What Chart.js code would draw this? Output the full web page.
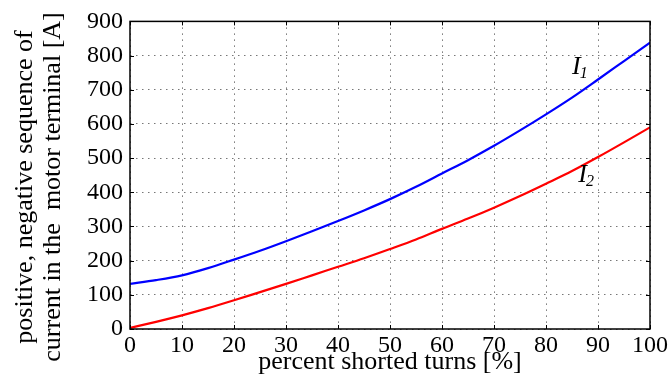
<!DOCTYPE html>
<html><head><meta charset="utf-8">
<script src="https://cdn.jsdelivr.net/npm/chart.js@4/dist/chart.umd.min.js"></script>
<style>html,body{margin:0;padding:0;background:#fff;}#wrap{width:671px;height:378px;}</style>
</head><body><div id="wrap"><canvas id="c" width="671" height="378"></canvas></div>
<script>
const shortedTurns = [0,5,10,15,20,25,30,35,40,45,50,55,60,65,70,75,80,85,90,95,100];
const currentI1 = [132,143,157,178,203,229,257,286,316,347,380,416,455,494,536,581,628,677,730,784,838];
const currentI2 = [3,21,40,61,84,108,132,157,182,207,234,262,293,323,355,389,425,462,503,546,590];
const xTicks = [0,10,20,30,40,50,60,70,80,90,100];
const yTicks = [0,100,200,300,400,500,600,700,800,900];
const xTitle = 'percent shorted turns [%]';
const yTitleLines = ['positive, negative sequence of', 'current in the  motor terminal [A]'];
const seriesLabels = [{main:'I', sub:'1', x:85, y:745}, {main:'I', sub:'2', x:86.2, y:430}];

const SERIF = '"Liberation Serif","DejaVu Serif",serif';

const framePlugin = {
  id: 'frame',
  afterDraw(chart) {
    const {ctx, chartArea: a, scales: {x, y}} = chart;
    ctx.save();
    ctx.strokeStyle = '#000';
    ctx.lineWidth = 1.5;
    ctx.strokeRect(a.left, a.top, a.right - a.left, a.bottom - a.top);
    ctx.lineWidth = 1;
    const L = 4;
    ctx.beginPath();
    xTicks.forEach(v => {
      const px = Math.round(x.getPixelForValue(v)) + 0.5;
      ctx.moveTo(px, a.bottom); ctx.lineTo(px, a.bottom - L);
      ctx.moveTo(px, a.top); ctx.lineTo(px, a.top + L);
    });
    yTicks.forEach(v => {
      const py = Math.round(y.getPixelForValue(v)) + 0.5;
      ctx.moveTo(a.left, py); ctx.lineTo(a.left + L, py);
      ctx.moveTo(a.right, py); ctx.lineTo(a.right - L, py);
    });
    ctx.stroke();
    ctx.fillStyle = '#000';
    ctx.textBaseline = 'alphabetic';
    seriesLabels.forEach(s => {
      const px = x.getPixelForValue(s.x), py = y.getPixelForValue(s.y);
      ctx.font = 'italic 26px ' + SERIF;
      ctx.textAlign = 'left';
      ctx.fillText(s.main, px, py);
      const w = ctx.measureText(s.main).width;
      ctx.font = 'italic 16px ' + SERIF;
      ctx.fillText(s.sub, px + w - 1, py + 4);
    });
    ctx.font = '26px ' + SERIF;
    ctx.textAlign = 'center';
    ctx.textBaseline = 'middle';
    ctx.translate(0, 187);
    ctx.rotate(-Math.PI / 2);
    ctx.fillText(yTitleLines[0], 0, 25);
    ctx.fillText(yTitleLines[1], 0, 53);
    ctx.restore();
  }
};

new Chart(document.getElementById('c'), {
  type: 'line',
  data: {
    datasets: [
      {label: 'I1', data: shortedTurns.map((t, i) => ({x: t, y: currentI1[i]})), borderColor: '#0000ff', borderWidth: 2.2, pointRadius: 0, cubicInterpolationMode: 'monotone', fill: false},
      {label: 'I2', data: shortedTurns.map((t, i) => ({x: t, y: currentI2[i]})), borderColor: '#ff0000', borderWidth: 2.2, pointRadius: 0, cubicInterpolationMode: 'monotone', fill: false}
    ]
  },
  options: {
    responsive: false,
    animation: false,
    events: [],
    layout: {padding: {top: 14, right: 21, left: 0, bottom: 0}},
    plugins: {legend: {display: false}, tooltip: {enabled: false}},
    scales: {
      x: {
        type: 'linear', min: 0, max: 100,
        afterBuildTicks: s => { s.ticks = xTicks.map(v => ({value: v})); },
        afterFit: s => { s.height = 49; },
        border: {display: false, dash: [1.5, 4.5]},
        grid: {color: '#777', lineWidth: 1, drawTicks: false, tickLength: 0},
        ticks: {color: '#000', font: {family: SERIF, size: 24}, padding: 2, maxRotation: 0, autoSkip: false},
        title: {display: true, text: xTitle, color: '#000', font: {family: SERIF, size: 26}, padding: {top: -6, bottom: 0}}
      },
      y: {
        type: 'linear', min: 0, max: 900,
        afterBuildTicks: s => { s.ticks = yTicks.map(v => ({value: v})); },
        afterFit: s => { s.width = 130; },
        border: {display: false, dash: [1.5, 4.5]},
        grid: {color: '#777', lineWidth: 1, drawTicks: false, tickLength: 0},
        ticks: {color: '#000', font: {family: SERIF, size: 24}, padding: 7, autoSkip: false}
      }
    }
  },
  plugins: [framePlugin]
});
</script>
</body></html>
